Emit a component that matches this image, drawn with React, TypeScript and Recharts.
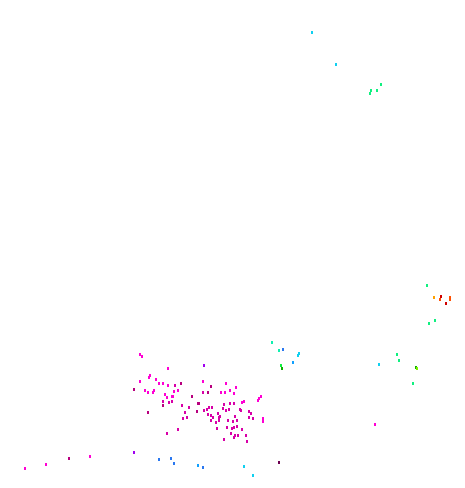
import React from "react";
import { ScatterChart, Scatter, XAxis, YAxis } from "recharts";

type P = [number, number];

const magentaBright: P[] = [
  [140.3, 354], [142, 355.7], [168.3, 368], [150, 374.7], [149, 376.7], [156, 379], [140.3, 381],
  [158.7, 382.7], [162.7, 382.7], [202.7, 380.7], [145, 389.7], [148.3, 391.7], [153.7, 390], [153.3, 392],
  [168.3, 385], [174, 390.7], [165.3, 394.3], [173.3, 396], [221, 391.7], [225.3, 391.7], [230, 390],
  [226.3, 382.7], [234.3, 393.3], [236.3, 387.3], [242, 402.3], [244.3, 401], [257.7, 400], [259.3, 398.3],
  [261, 396], [262.7, 418], [263.3, 421.3], [25, 468], [46.3, 464], [90, 455.7], [375, 424],
  [167.3, 396.7], [171.7, 396], [178.3, 390],
];

const magentaMid: P[] = [
  [175.3, 385.3], [163.3, 401.3], [168.7, 402], [172.3, 401.3], [182, 404.7], [188.7, 407.3], [185, 412],
  [187, 417.3], [183.3, 417.7], [204.3, 410.3], [207, 409], [208.7, 406.7], [212.3, 407.3], [207.7, 414],
  [210.7, 415], [212.7, 416.7], [211.3, 420], [217.7, 412.7], [218.7, 416.7], [220.3, 416], [216.3, 422.3],
  [219.3, 420.3], [217, 428.3], [222.7, 408.3], [224, 404], [226, 410], [229.3, 409], [230.3, 402.7],
  [234.3, 403.3], [239.7, 409], [240.7, 410], [235, 416], [228.3, 420], [232.7, 420.7], [236.7, 420],
  [232, 428.3], [234, 427.3], [237.3, 426], [241.7, 428.7], [227.3, 426.7], [231, 432.7], [234.7, 434.7],
  [233.7, 436.7], [237.7, 434.7], [246, 434.7], [224.3, 439.3], [247, 440.7], [249.3, 411], [250.7, 412.7],
  [249.3, 416.7], [253.3, 417.7], [203, 392.3], [167.3, 432.7], [178, 428.7],
];

const magentaDark: P[] = [
  [133.7, 389], [180.7, 382.7], [211.3, 386.3], [207.7, 391.7], [191.7, 396], [162.7, 405], [198.3, 402.7],
  [199.3, 403.3], [196.7, 410.7], [148, 411.7], [68.7, 458],
];

const purple: P[] = [[204.3, 365], [134.3, 451.7]];
const darkPurple: P[] = [[279, 462]];
const blue: P[] = [[159.3, 458.7], [171.3, 458], [174.3, 462.7], [203.3, 466.7], [283.3, 349]];
const skyBlue: P[] = [[197.7, 464.7], [292.7, 362]];
const cyan: P[] = [
  [244, 465.7], [253, 474.7], [312.3, 32.3], [336.3, 64.3], [299, 353], [298.3, 355], [379.3, 364.3],
];
const aqua: P[] = [[272.3, 341.7], [279.3, 349.7]];
const springGreen: P[] = [
  [380.7, 84.3], [371.3, 90.3], [376.7, 90.3], [370.3, 93], [426.7, 285], [434.7, 320.3], [429, 323],
  [397.3, 354], [399.3, 360.3], [412.7, 383],
];
const green: P[] = [[280.7, 365]];
const darkGreen: P[] = [[282.3, 367.7], [416, 367]];
const yellowGreen: P[] = [[417.3, 368]];
const orange: P[] = [[434.3, 297]];
const orangeRed: P[] = [[439.7, 299], [450, 297], [449.7, 299]];
const red: P[] = [[441, 296.3], [446.3, 303.3]];

const groups: { name: string; pts: P[]; color: string }[] = [
  { name: "magentaBright", pts: magentaBright, color: "#ff00d4" },
  { name: "magentaMid", pts: magentaMid, color: "#d800a8" },
  { name: "magentaDark", pts: magentaDark, color: "#b8007e" },
  { name: "purple", pts: purple, color: "#a000f0" },
  { name: "darkPurple", pts: darkPurple, color: "#6c0050" },
  { name: "blue", pts: blue, color: "#2a78f0" },
  { name: "skyBlue", pts: skyBlue, color: "#10a0ff" },
  { name: "cyan", pts: cyan, color: "#10d0f0" },
  { name: "aqua", pts: aqua, color: "#10f0b0" },
  { name: "springGreen", pts: springGreen, color: "#10f080" },
  { name: "green", pts: green, color: "#10f040" },
  { name: "darkGreen", pts: darkGreen, color: "#10b000" },
  { name: "yellowGreen", pts: yellowGreen, color: "#80f000" },
  { name: "orange", pts: orange, color: "#ffa000" },
  { name: "orangeRed", pts: orangeRed, color: "#ff5000" },
  { name: "red", pts: red, color: "#d00000" },
];

const Dash = (color: string) => (props: any) => {
  const { cx, cy } = props;
  if (cx == null || cy == null) return null;
  return <rect x={Math.round(cx) - 1} y={Math.round(cy) - 1} width={2} height={3} fill={color} />;
};

export default function App() {
  return (
    <div style={{ position: "absolute", left: 0, top: 0, width: 465, height: 488, background: "#fff" }}>
      <ScatterChart width={465} height={488} margin={{ top: 0, right: 0, bottom: 0, left: 0 }}>
        <XAxis type="number" dataKey="x" domain={[0, 465]} hide />
        <YAxis type="number" dataKey="y" domain={[0, 488]} reversed hide />
        {groups.map((g) => (
          <Scatter
            key={g.name}
            name={g.name}
            data={g.pts.map(([x, y]) => ({ x, y }))}
            fill={g.color}
            shape={Dash(g.color)}
            isAnimationActive={false}
          />
        ))}
      </ScatterChart>
    </div>
  );
}
